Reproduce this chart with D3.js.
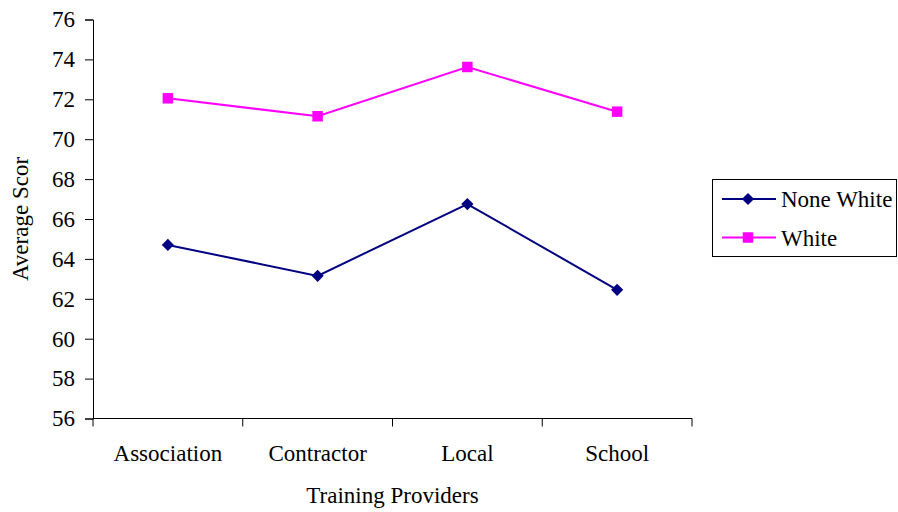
<!DOCTYPE html>
<html>
<head>
<meta charset="utf-8">
<script src="https://cdn.jsdelivr.net/npm/d3@7"></script>
<style>
  body { margin: 0; background: #fff; }
  svg { display: block; }
</style>
</head>
<body>
<svg id="chart" width="898" height="512"></svg>
<script>
const categories = ["Association", "Contractor", "Local", "School"];
const noneWhite = [64.7, 63.15, 66.75, 62.45];
const white = [72.05, 71.15, 73.62, 71.38];
const yTicks = [56, 58, 60, 62, 64, 66, 68, 70, 72, 74, 76];
const seriesNames = ["None White", "White"];
const xTitle = "Training Providers";
const yTitle = "Average Scor";

const FONT = "'Liberation Serif', 'Times New Roman', Times, serif";
const FS = 23;

const series = [
  { name: seriesNames[0], values: noneWhite, color: "#000080", marker: "diamond" },
  { name: seriesNames[1], values: white, color: "#FF00FF", marker: "square" }
];

const svg = d3.select("#chart").attr("font-family", FONT);
const mLeft = 93, mRight = 692, mTop = 19.5, mBottom = 418.5;

const x = d3.scaleBand().domain(categories).range([mLeft, mRight]);
const y = d3.scaleLinear().domain([56, 76]).range([mBottom, mTop]);

// Y axis
const yAxis = svg.append("g").attr("transform", `translate(${mLeft},0)`)
  .call(d3.axisLeft(y).tickValues(yTicks).tickSize(8).tickPadding(10));
yAxis.attr("font-family", FONT).attr("font-size", FS);
yAxis.selectAll("path, line").attr("stroke", "#000").attr("stroke-width", 1);
yAxis.selectAll("text").attr("font-family", FONT).attr("font-size", FS).attr("fill", "#000");

// X axis: ticks at band boundaries
const xAxis = svg.append("g").attr("transform", `translate(0,${mBottom})`);
xAxis.append("line").attr("x1", mLeft).attr("x2", mRight).attr("y1", 0).attr("y2", 0).attr("stroke", "#000");
const bounds = categories.map(c => x(c)).concat([mRight]);
xAxis.selectAll("line.tick").data(bounds).enter().append("line")
  .attr("class", "tick")
  .attr("x1", d => d).attr("x2", d => d).attr("y1", 0).attr("y2", 8).attr("stroke", "#000");
xAxis.selectAll("text.lab").data(categories).enter().append("text")
  .attr("class", "lab")
  .attr("x", d => x(d) + x.bandwidth() / 2)
  .attr("y", 42)
  .attr("text-anchor", "middle")
  .attr("font-family", FONT).attr("font-size", FS)
  .text(d => d);

// Titles
svg.append("text").attr("x", (mLeft + mRight) / 2).attr("y", 503)
  .attr("text-anchor", "middle").attr("font-family", FONT).attr("font-size", FS).text(xTitle);
svg.append("text").attr("transform", `translate(28,${(mTop + mBottom) / 2}) rotate(-90)`)
  .attr("text-anchor", "middle").attr("font-family", FONT).attr("font-size", FS).text(yTitle);

const line = d3.line().x((d, i) => x(categories[i]) + x.bandwidth() / 2).y(d => y(d));
const diamond = d3.symbol().type(d3.symbolDiamond2).size(95);
const square = d3.symbol().type(d3.symbolSquare).size(110);

series.forEach(s => {
  svg.append("path").datum(s.values).attr("d", line)
    .attr("fill", "none").attr("stroke", s.color).attr("stroke-width", 2);
  svg.selectAll(null).data(s.values).enter().append("path")
    .attr("d", s.marker === "diamond" ? diamond : square)
    .attr("transform", (d, i) => `translate(${x(categories[i]) + x.bandwidth() / 2},${y(d)})`)
    .attr("fill", s.color);
});

// Legend
const lg = svg.append("g");
lg.append("rect").attr("x", 712.5).attr("y", 179.5).attr("width", 184).attr("height", 77)
  .attr("fill", "#fff").attr("stroke", "#000").attr("stroke-width", 1);
const rowsY = [199, 237.5];
series.forEach((s, i) => {
  lg.append("line").attr("x1", 722).attr("x2", 776).attr("y1", rowsY[i]).attr("y2", rowsY[i])
    .attr("stroke", s.color).attr("stroke-width", 2);
  lg.append("path").attr("d", s.marker === "diamond" ? diamond : square)
    .attr("transform", `translate(748,${rowsY[i]})`).attr("fill", s.color);
  lg.append("text").attr("x", 781).attr("y", rowsY[i]).attr("dy", "0.35em")
    .attr("font-family", FONT).attr("font-size", FS).text(s.name);
});
</script>
</body>
</html>
